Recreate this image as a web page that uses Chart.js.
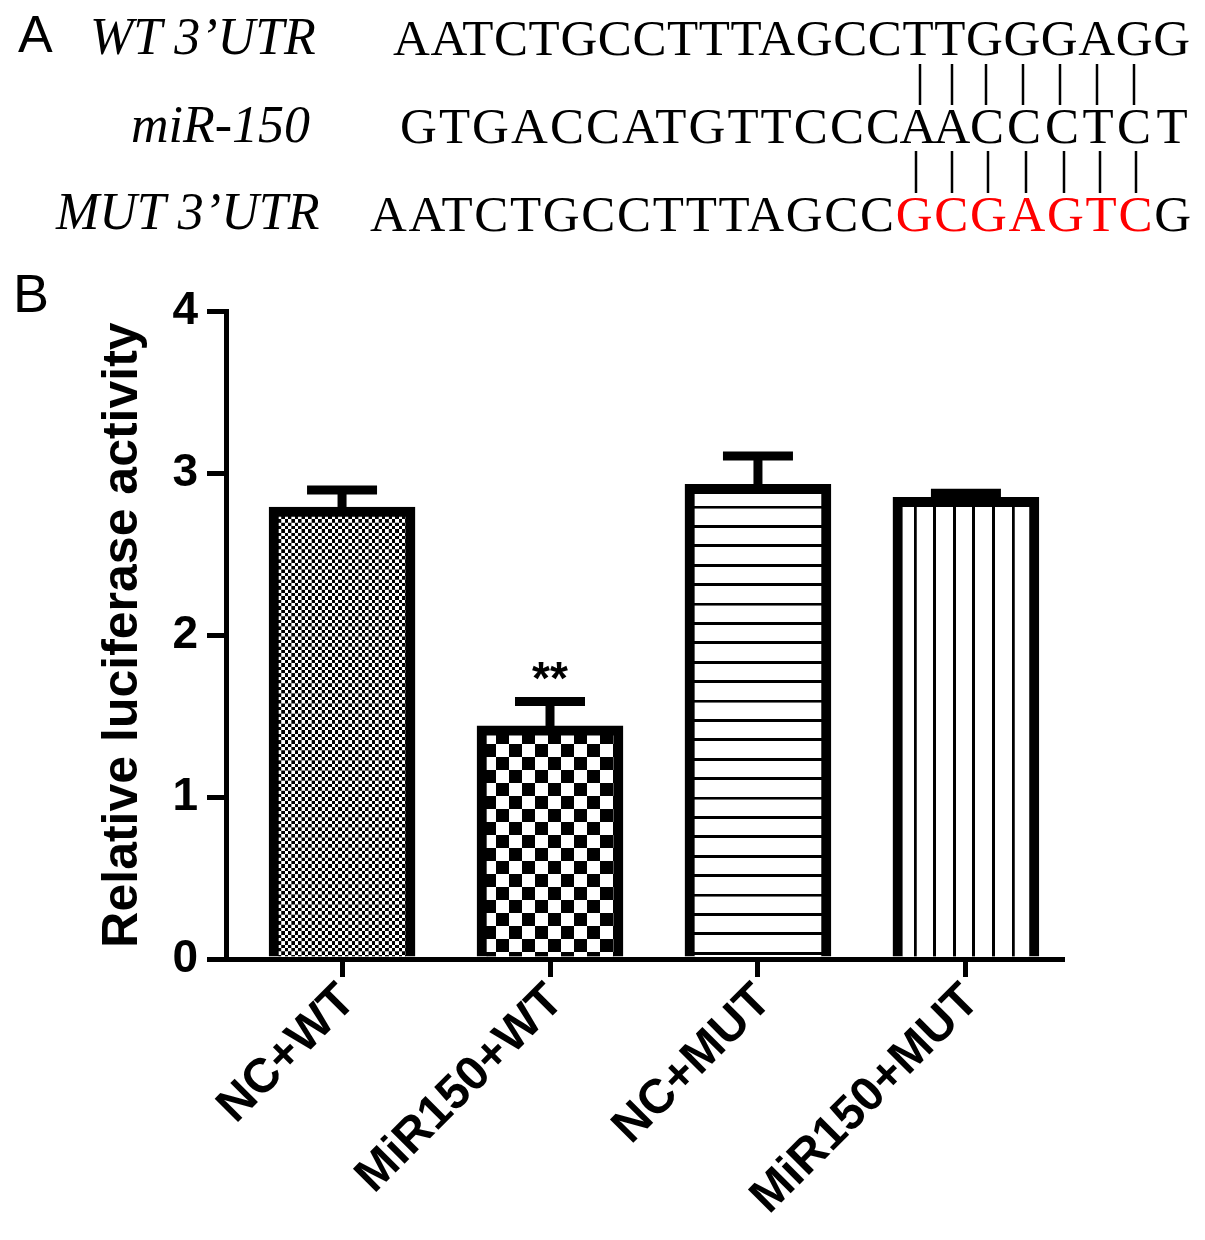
<!DOCTYPE html>
<html>
<head>
<meta charset="utf-8">
<script src="https://cdn.jsdelivr.net/npm/chart.js@4.4.1/dist/chart.umd.min.js"></script>
<style>
  html, body { margin: 0; padding: 0; background: #fff; }
  #wrap { position: relative; width: 1205px; height: 1240px; overflow: hidden; }
  #chart { position: absolute; left: 0; top: 0; }
  #panelA { position: absolute; left: 0; top: 0; }
  .tag { position: absolute; font-family: "Liberation Sans", Arial, sans-serif; font-size: 54px; line-height: 1; color: #000; }
</style>
</head>
<body>
<div id="wrap">
  <canvas id="chart" width="1205" height="1240"></canvas>
  <svg id="panelA" width="1205" height="250" xmlns="http://www.w3.org/2000/svg"></svg>
  <div class="tag" style="left:13px; top:266px">B</div>
</div>
<script>
// panel B data
const categories = ['NC+WT', 'MiR150+WT', 'NC+MUT', 'MiR150+MUT'];
const means = [2.79, 1.44, 2.93, 2.85];
const errors = [0.105, 0.15, 0.175, 0.025];
const sigMarks = ['', '**', '', ''];
const yTicks = [0, 1, 2, 3, 4];

// panel A sequences
const wtSeq = 'AATCTGCCTTTAGCCTTGGGAGG';
const mirSeq = 'GTGACCATGTTCCCAACCCTCT';
const mutSeq = 'AATCTGCCTTTAGCCGCGAGTCG';
const mutRange = [15, 22];   // red letters in mutSeq
const mirSpread = 14;        // mirSeq letters from here on sit under the pairing bars

const FONT = '"Liberation Sans", Arial, sans-serif';
const SERIF = '"Liberation Serif", "Times New Roman", serif';

// ---- panel A (plain svg text) ----
const svgNS = 'http://www.w3.org/2000/svg';
const svg = document.getElementById('panelA');
function addText(str, attrs) {
  const t = document.createElementNS(svgNS, 'text');
  for (const k in attrs) t.setAttribute(k, attrs[k]);
  t.textContent = str;
  svg.appendChild(t);
  return t;
}
function addLine(x, y1, y2) {
  const l = document.createElementNS(svgNS, 'line');
  l.setAttribute('x1', x); l.setAttribute('x2', x);
  l.setAttribute('y1', y1); l.setAttribute('y2', y2);
  l.setAttribute('stroke', '#000'); l.setAttribute('stroke-width', 2.5);
  svg.appendChild(l);
}

addText('A', { x: 18, y: 52, 'font-family': FONT, 'font-size': 52 });

const labelStyle = { 'font-family': SERIF, 'font-style': 'italic', 'font-size': 52 };
addText('WT 3’UTR', { ...labelStyle, x: 90, y: 54 });
addText('miR-150', { ...labelStyle, x: 131, y: 142 });
addText('MUT 3’UTR', { ...labelStyle, x: 56, y: 229 });

const seqStyle = { 'font-family': SERIF, 'font-size': 51, lengthAdjust: 'spacing' };
addText(wtSeq, { ...seqStyle, x: 393, y: 55, textLength: 797 });

addText(mirSeq.slice(0, mirSpread), { ...seqStyle, x: 400, y: 143, textLength: 500 });
const mirX = [918, 952, 987, 1024, 1062, 1098, 1134, 1172];
addText(mirSeq.slice(mirSpread), { 'font-family': SERIF, 'font-size': 51, x: mirX.join(' '), y: 143, 'text-anchor': 'middle' });

const mut = addText('', { ...seqStyle, x: 370, y: 231, textLength: 821 });
mut.appendChild(document.createTextNode(mutSeq.slice(0, mutRange[0])));
const red = document.createElementNS(svgNS, 'tspan');
red.setAttribute('fill', '#f00');
red.textContent = mutSeq.slice(mutRange[0], mutRange[1]);
mut.appendChild(red);
mut.appendChild(document.createTextNode(mutSeq.slice(mutRange[1])));

// pairing bars
const topBarX = [920, 952, 986, 1023, 1060, 1097, 1134];
const botBarX = [916, 952, 988, 1026, 1064, 1100, 1136];
topBarX.forEach(x => addLine(x, 64, 105));
botBarX.forEach(x => addLine(x, 151, 193));

// ---- fills ----
const chartCtx = document.getElementById('chart').getContext('2d');
function makePattern(size, matrix, draw) {
  const c = document.createElement('canvas');
  c.width = c.height = size;
  const g = c.getContext('2d');
  g.fillStyle = '#fff';
  g.fillRect(0, 0, size, size);
  g.fillStyle = '#000';
  draw(g, size);
  const p = chartCtx.createPattern(c, 'repeat');
  p.setTransform(matrix);
  return p;
}
const fineChecker = makePattern(20, new DOMMatrix().scale(0.335), g => {
  g.fillRect(0, 0, 10, 10); g.fillRect(10, 10, 10, 10);
});
const bigChecker = makePattern(26, new DOMMatrix().translate(2, 3), g => {
  g.fillRect(0, 0, 13, 13); g.fillRect(13, 13, 13, 13);
});
const hLines = makePattern(100, new DOMMatrix().translate(0, 1.2).scale(0.194), g => {
  g.fillRect(0, 0, 100, 15);
});
const vLines = makePattern(100, new DOMMatrix().translate(12, 0).scale(0.196), g => {
  g.fillRect(0, 0, 15, 100);
});

// ---- error bars + significance ----
const errorBars = {
  id: 'errorBars',
  afterDatasetsDraw(chart) {
    const { ctx, scales: { y } } = chart;
    const meta = chart.getDatasetMeta(0);
    ctx.save();
    ctx.strokeStyle = '#000';
    ctx.fillStyle = '#000';
    ctx.lineWidth = 9;
    ctx.font = 'bold 46px ' + FONT;
    ctx.textAlign = 'center';
    ctx.textBaseline = 'alphabetic';
    meta.data.forEach((bar, i) => {
      const base = y.getPixelForValue(means[i]);
      const top = y.getPixelForValue(means[i] + errors[i]);
      ctx.beginPath();
      ctx.moveTo(bar.x, base + 5);
      ctx.lineTo(bar.x, top);
      ctx.moveTo(bar.x - 35, top);
      ctx.lineTo(bar.x + 35, top);
      ctx.stroke();
      if (sigMarks[i]) ctx.fillText(sigMarks[i], bar.x, top - 7);
    });
    ctx.restore();
  }
};

const tickFont = { family: FONT, size: 46, weight: 'bold' };

new Chart(chartCtx, {
  type: 'bar',
  data: {
    datasets: [{
      data: means.map((v, i) => ({ x: i, y: v })),
      backgroundColor: [fineChecker, bigChecker, hLines, vLines],
      borderColor: '#000',
      borderWidth: 10,
      barThickness: 146,
    }]
  },
  options: {
    responsive: false,
    devicePixelRatio: 1,
    animation: false,
    layout: { padding: { left: 0, right: 143, top: 311, bottom: 0 } },
    plugins: { legend: { display: false }, tooltip: { enabled: false } },
    scales: {
      x: {
        type: 'linear',
        offset: false,
        min: -0.558,
        max: 3.462,
        afterBuildTicks: s => { s.ticks = categories.map((c, i) => ({ value: i })); },
        afterFit: s => { s.height = 281; },
        ticks: {
          callback: v => categories[v],
          minRotation: 45, maxRotation: 45,
          labelOffset: 6,
          font: { family: FONT, size: 48, weight: 'bold' }, color: '#000', padding: -4,
        },
        grid: { offset: false, drawOnChartArea: false, tickLength: 18, lineWidth: 5, color: '#000' },
        border: { color: '#000', width: 5 },
      },
      y: {
        min: 0,
        max: 4,
        afterBuildTicks: s => { s.ticks = yTicks.map(v => ({ value: v })); },
        afterFit: s => { s.width = 226; },
        ticks: { font: tickFont, color: '#000', padding: 9 },
        grid: { drawOnChartArea: false, tickLength: 19, lineWidth: 5, color: '#000' },
        border: { color: '#000', width: 5 },
        title: {
          display: true,
          text: 'Relative luciferase activity',
          font: { family: FONT, size: 50, weight: 'bold', lineHeight: 1 },
          color: '#000',
          padding: { top: 98, bottom: 0 },
        },
      },
    },
  },
  plugins: [errorBars],
});
</script>
</body>
</html>
